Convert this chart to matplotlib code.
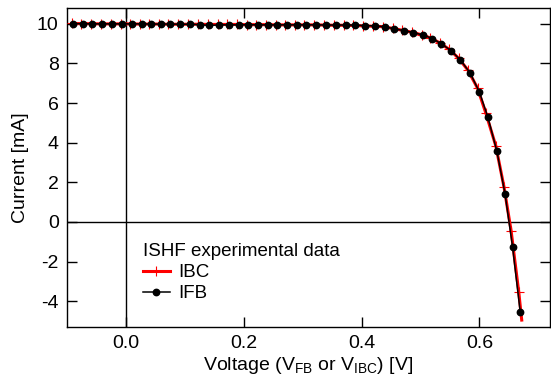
import matplotlib
matplotlib.use("Agg")
import matplotlib.pyplot as plt
from matplotlib.lines import Line2D

plt.rcParams['font.family'] = ['Liberation Sans', 'DejaVu Sans']
plt.rcParams['mathtext.default'] = 'regular'
plt.rcParams['axes.unicode_minus'] = False

# IFB: black dots
v_ifb = [-0.0893, -0.0734, -0.0571, -0.0402, -0.0232, -0.0063, 0.0102, 0.0266, 0.0424, 0.0588,
         0.0751, 0.0915, 0.1085, 0.1259, 0.1419, 0.1588, 0.1751, 0.1915, 0.2080, 0.2242,
         0.2407, 0.2571, 0.2734, 0.2898, 0.3059, 0.3232, 0.3395, 0.3559, 0.3729, 0.3893,
         0.4056, 0.4225, 0.4395, 0.4559, 0.4717, 0.4881, 0.5051, 0.5203, 0.5356, 0.5525,
         0.5678, 0.5842, 0.6000, 0.6144, 0.6297, 0.6436, 0.6564, 0.6695]
i_ifb = [10.01, 10.01, 10.0, 10.0, 10.0, 10.0, 10.0, 10.0, 9.99, 9.99,
         9.99, 9.98, 9.98, 9.96, 9.92, 9.95, 9.95, 9.95, 9.96, 9.95,
         9.95, 9.95, 9.95, 9.95, 9.95, 9.95, 9.94, 9.94, 9.94, 9.94,
         9.91, 9.90, 9.85, 9.75, 9.66, 9.56, 9.43, 9.26, 8.99, 8.64,
         8.18, 7.53, 6.57, 5.30, 3.59, 1.43, -1.25, -4.55]

# IBC: red pluses
v_ibc = [-0.092, -0.076, -0.060, -0.043, -0.026, -0.009, 0.007, 0.024, 0.039, 0.056,
         0.072, 0.089, 0.105, 0.123, 0.139, 0.156, 0.172, 0.189, 0.205, 0.221,
         0.238, 0.254, 0.270, 0.287, 0.303, 0.320, 0.337, 0.353, 0.370, 0.386,
         0.403, 0.420, 0.437, 0.453, 0.469, 0.485, 0.502, 0.517, 0.533, 0.549,
         0.565, 0.581, 0.597, 0.611, 0.628, 0.642, 0.654, 0.667, 0.672]
i_ibc = [10.02, 10.01, 10.01, 10.0, 10.0, 10.0, 10.0, 9.99, 9.99, 9.99,
         9.98, 9.98, 9.98, 9.98, 9.97, 9.97, 9.97, 9.97, 9.96, 9.96,
         9.96, 9.95, 9.95, 9.95, 9.95, 9.95, 9.94, 9.93, 9.93, 9.92,
         9.90, 9.88, 9.86, 9.77, 9.68, 9.58, 9.45, 9.29, 9.04, 8.71,
         8.26, 7.65, 6.75, 5.50, 3.84, 1.75, -0.45, -3.55, -4.95]

fig = plt.figure(figsize=(5.51, 3.81), dpi=100)
ax = fig.add_axes([67/551, 1 - 327/381, 483/551, 319/381])

ax.axhline(0, color='black', lw=1)
ax.axvline(0, color='black', lw=1)

ax.plot(v_ibc, i_ibc, color='red', lw=2.2, marker='+', ms=7, mew=0.8,
        markevery=list(range(len(v_ibc) - 1)), zorder=3)
ax.plot(v_ifb, i_ifb, color='black', lw=1.1, marker='o', ms=4.6, zorder=4)

ax.set_xlim(-0.1, 0.72)
ax.set_ylim(-5.3, 10.8)
ax.set_xticks([0.0, 0.2, 0.4, 0.6])
ax.set_xticklabels(['0.0', '0.2', '0.4', '0.6'])
ax.set_yticks([-4, -2, 0, 2, 4, 6, 8, 10])
ax.tick_params(direction='in', length=7, width=1, top=True, right=True,
               labelsize=14, pad=6)
for s in ax.spines.values():
    s.set_linewidth(1)

ax.set_xlabel('Voltage (V$_{FB}$ or V$_{IBC}$) [V]', fontsize=14, labelpad=2)
ax.set_ylabel('Current [mA]', fontsize=14, labelpad=6)

handles = [Line2D([], [], color='red', lw=2.2, marker='+', ms=7, mew=0.8),
           Line2D([], [], color='black', lw=1.1, marker='o', ms=4.6)]
leg = ax.legend(handles, ['IBC', 'IFB'], title='ISHF experimental data',
                loc='upper left', bbox_to_anchor=(0.158, 0.262), frameon=False,
                fontsize=13.5, title_fontsize=13.5, alignment='left',
                handlelength=1.4, handletextpad=0.45, borderpad=0,
                labelspacing=0.2, borderaxespad=0)

fig.savefig('out.png', dpi=100)
